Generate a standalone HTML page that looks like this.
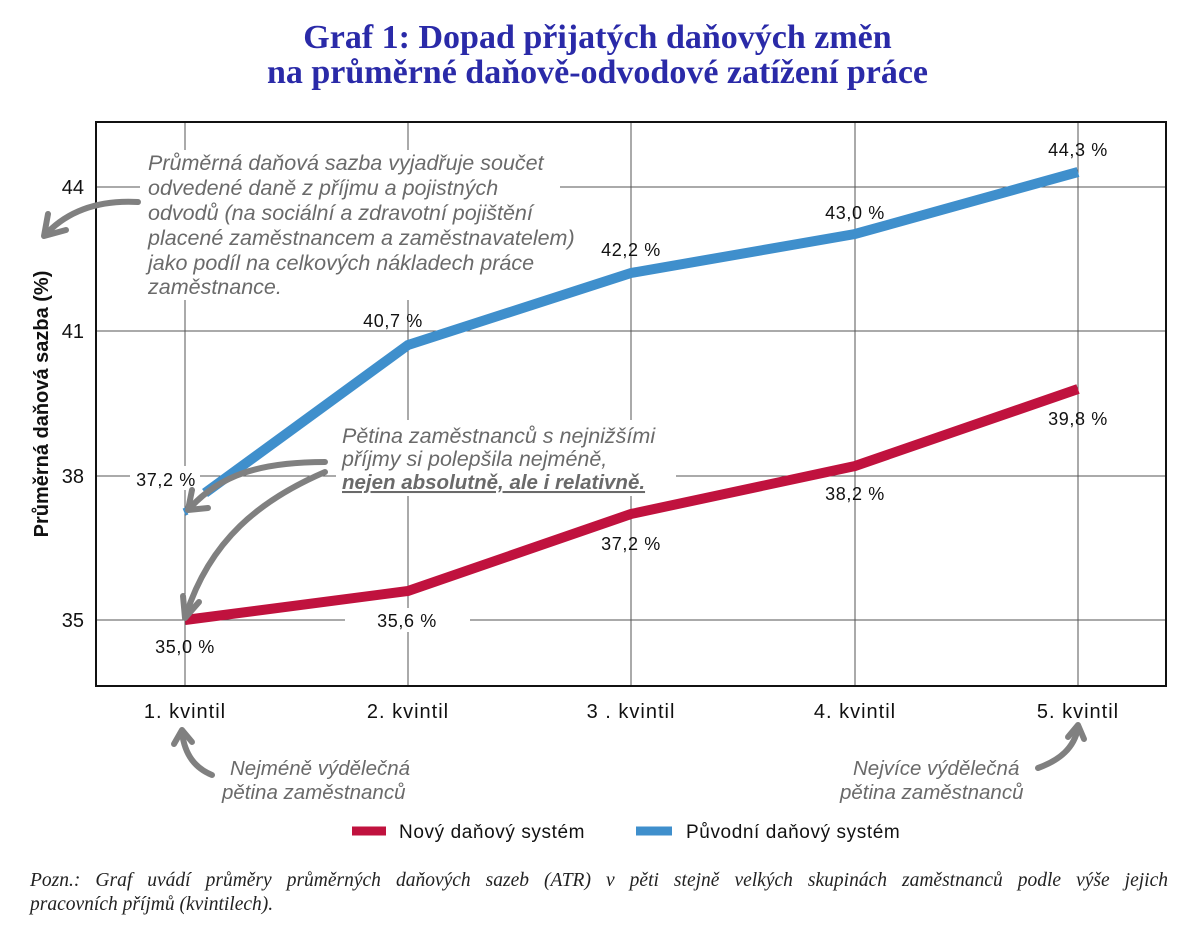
<!DOCTYPE html>
<html><head><meta charset="utf-8"><style>
body{margin:0;background:#fff;width:1197px;height:937px;overflow:hidden;position:relative;font-family:"Liberation Sans",sans-serif}
.t{position:absolute;left:0;width:1195px;text-align:center;font-family:"Liberation Serif",serif;font-weight:bold;font-size:34px;color:#2a2aa8;line-height:35px}
.note{position:absolute;left:30px;width:1138px;top:869px;font-family:"Liberation Serif",serif;font-style:italic;font-size:19.5px;line-height:24px;color:#222}
.note .l1{display:block;text-align:justify;text-align-last:justify;white-space:nowrap}
</style></head><body>
<div class="t" style="top:20px">Graf 1: Dopad přijatých daňových změn<br>na průměrné daňově-odvodové zatížení práce</div>
<svg width="1197" height="937" style="position:absolute;left:0;top:0">
<g stroke="#555" stroke-width="1">
<line x1="96" y1="187" x2="1166" y2="187"/><line x1="96" y1="331" x2="1166" y2="331"/>
<line x1="96" y1="476" x2="1166" y2="476"/><line x1="96" y1="620" x2="1166" y2="620"/>
<line x1="185" y1="122" x2="185" y2="686"/><line x1="408" y1="122" x2="408" y2="686"/>
<line x1="631" y1="122" x2="631" y2="686"/><line x1="855" y1="122" x2="855" y2="686"/>
<line x1="1078" y1="122" x2="1078" y2="686"/>
</g>
<rect x="96" y="122" width="1070" height="564" fill="none" stroke="#111" stroke-width="2"/>
<rect x="140" y="150" width="420" height="150" fill="#fff"/>
<rect x="336" y="420" width="340" height="76" fill="#fff"/>
<g font-size="20" fill="#111" text-anchor="middle">
<text x="84" y="194" text-anchor="end">44</text><text x="84" y="338" text-anchor="end">41</text>
<text x="84" y="483" text-anchor="end">38</text><text x="84" y="627" text-anchor="end">35</text>
</g>
<g font-size="20" fill="#111" text-anchor="middle" letter-spacing="1">
<text x="185" y="718">1. kvintil</text><text x="408" y="718">2. kvintil</text><text x="631" y="718">3 . kvintil</text><text x="855" y="718">4. kvintil</text><text x="1078" y="718">5. kvintil</text>
</g>
<text transform="translate(48,404) rotate(-90)" font-size="20" font-weight="bold" text-anchor="middle" fill="#111">Průměrná daňová sazba (%)</text>
<polyline points="205,493 408,345 631,273 855,234 1078,172" fill="none" stroke="#3f8fcc" stroke-width="10"/>
<line x1="184" y1="508" x2="187" y2="515" stroke="#3f8fcc" stroke-width="3"/>
<polyline points="185,620 408,591 631,514 855,466 1078,389" fill="none" stroke="#c0123e" stroke-width="10"/>
<g font-size="18" fill="#111" text-anchor="middle" letter-spacing="0.6">
<rect x="130" y="466" width="70" height="24" fill="#fff"/><text x="166" y="486">37,2 %</text>
<text x="393" y="327">40,7 %</text><text x="631" y="256">42,2 %</text><text x="855" y="219">43,0 %</text><text x="1078" y="156">44,3 %</text>
<text x="185" y="653">35,0 %</text><rect x="345" y="608" width="125" height="24" fill="#fff"/><text x="407" y="627">35,6 %</text>
<text x="631" y="550">37,2 %</text><text x="855" y="500">38,2 %</text><text x="1078" y="425">39,8 %</text>
</g>
<g font-size="21.5" font-style="italic" fill="#6a6a6a">
<text x="148" y="170">Průměrná daňová sazba vyjadřuje součet</text>
<text x="148" y="195">odvedené daně z příjmu a pojistných</text>
<text x="148" y="220">odvodů (na sociální a zdravotní pojištění</text>
<text x="148" y="245">placené zaměstnancem a zaměstnavatelem)</text>
<text x="148" y="270">jako podíl na celkových nákladech práce</text>
<text x="148" y="294">zaměstnance.</text>
<text x="342" y="443">Pětina zaměstnanců s nejnižšími</text>
<text x="342" y="466">příjmy si polepšila nejméně,</text>
<text x="342" y="489" text-decoration="underline" font-weight="bold" font-size="20.5">nejen absolutně, ale i relativně.</text>
<text x="230" y="775" font-size="20.5">Nejméně výdělečná</text><text x="222" y="799" font-size="20.5">pětina zaměstnanců</text>
<text x="853" y="775" font-size="20.5">Nejvíce výdělečná</text><text x="840" y="799" font-size="20.5">pětina zaměstnanců</text>
</g>
<g fill="none" stroke="#808080" stroke-width="6" stroke-linecap="round">
<path d="M138,202 C100,200 70,210 48,232"/><path d="M44,236 l4,-22 M44,236 l22,-6"/>
<path d="M325,462 C260,462 220,475 190,508"/><path d="M188,510 l4,-20 M188,510 l20,-2"/>
<path d="M325,472 C260,500 210,540 186,615"/><path d="M185,618 l-2,-22 M185,618 l14,-16"/>
<path d="M212,775 C195,768 185,755 182,733"/><path d="M182,730 l-8,14 M182,730 l10,12"/>
<path d="M1038,768 C1060,760 1074,748 1078,728"/><path d="M1078,725 l-10,12 M1078,725 l6,14"/>
</g>
<line x1="352" y1="831" x2="386" y2="831" stroke="#c0123e" stroke-width="9"/>
<text x="399" y="838" font-size="19" letter-spacing="0.6" fill="#111">Nový daňový systém</text>
<line x1="636" y1="831" x2="672" y2="831" stroke="#3f8fcc" stroke-width="9"/>
<text x="686" y="838" font-size="19" letter-spacing="0.6" fill="#111">Původní daňový systém</text>
</svg>
<div class="note"><span class="l1">Pozn.: Graf uvádí průměry průměrných daňových sazeb (ATR) v pěti stejně velkých skupinách zaměstnanců podle výše jejich</span>pracovních příjmů (kvintilech).</div>
</body></html>
